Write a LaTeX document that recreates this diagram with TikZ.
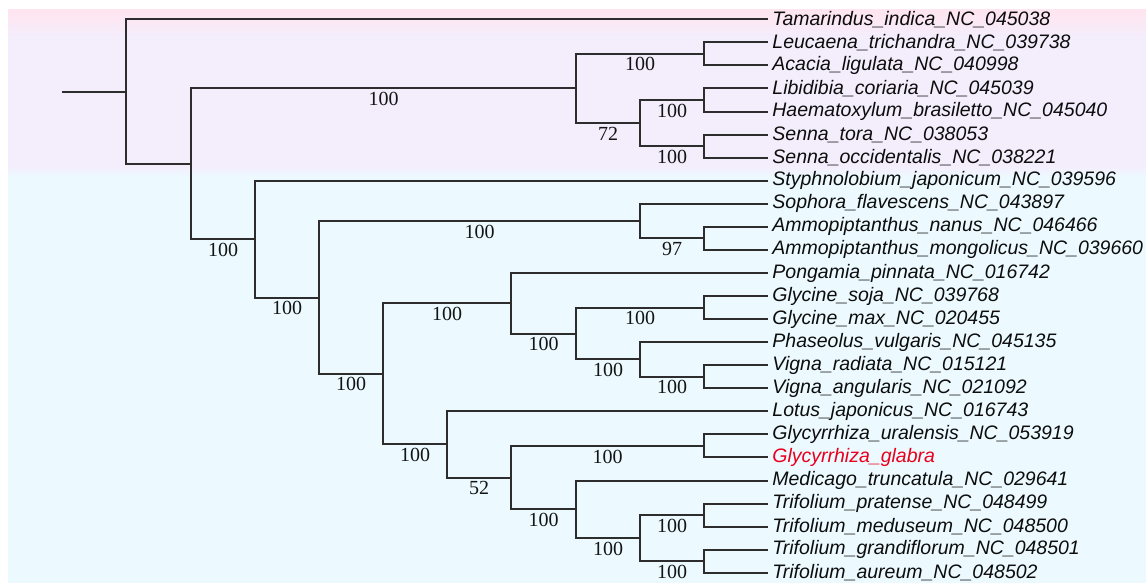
\documentclass[tikz,border=0pt]{standalone}
\usepackage{fontspec}
\setmainfont{Liberation Serif}
\newfontfamily\leaffont{Liberation Sans}
\definecolor{bgpink}{RGB}{255,229,239}
\definecolor{bglav}{RGB}{244,237,252}
\definecolor{bgcyan}{RGB}{236,250,255}
\definecolor{branchc}{RGB}{45,45,45}
\definecolor{hilite}{RGB}{232,0,28}
\tikzset{
  branch/.style={draw=branchc, line width=1pt},
  leaflabel/.style={anchor=west, inner sep=2pt, font=\leaffont\itshape\fontsize{9.75}{10}\selectfont, text=black!95},
  supp/.style={below, inner sep=1.4pt, font=\fontsize{10}{10}\selectfont, text=black!92},
}
\begin{document}
\begin{tikzpicture}[x=0.5pt, y=-0.5pt]
\useasboundingbox (0,0) rectangle (1146,583);
% background bands
\fill[bglav] (8,36) rectangle (1146,166);
\shade[top color=bgpink, bottom color=bglav] (8,10) rectangle (1146,37);
\shade[top color=bglav, bottom color=bgcyan] (8,165) rectangle (1146,178);
\fill[bgcyan] (8,177) rectangle (1146,583);
% leaves
\foreach \i/\name/\txt in {
 0/l0/Tamarindus\_indica\_NC\_045038,
 1/l1/Leucaena\_trichandra\_NC\_039738,
 2/l2/Acacia\_ligulata\_NC\_040998,
 3/l3/Libidibia\_coriaria\_NC\_045039,
 4/l4/Haematoxylum\_brasiletto\_NC\_045040,
 5/l5/Senna\_tora\_NC\_038053,
 6/l6/Senna\_occidentalis\_NC\_038221,
 7/l7/Styphnolobium\_japonicum\_NC\_039596,
 8/l8/Sophora\_flavescens\_NC\_043897,
 9/l9/Ammopiptanthus\_nanus\_NC\_046466,
 10/l10/Ammopiptanthus\_mongolicus\_NC\_039660,
 11/l11/Pongamia\_pinnata\_NC\_016742,
 12/l12/Glycine\_soja\_NC\_039768,
 13/l13/Glycine\_max\_NC\_020455,
 14/l14/Phaseolus\_vulgaris\_NC\_045135,
 15/l15/Vigna\_radiata\_NC\_015121,
 16/l16/Vigna\_angularis\_NC\_021092,
 17/l17/Lotus\_japonicus\_NC\_016743,
 18/l18/Glycyrrhiza\_uralensis\_NC\_053919,
 20/l20/Medicago\_truncatula\_NC\_029641,
 21/l21/Trifolium\_pratense\_NC\_048499,
 22/l22/Trifolium\_meduseum\_NC\_048500,
 23/l23/Trifolium\_grandiflorum\_NC\_048501,
 24/l24/Trifolium\_aureum\_NC\_048502}{
  \node[leaflabel] (\name) at (768,{19.3+23.06*\i}) {\txt};
}
\node[leaflabel, text=hilite] (l19) at (768,{19.3+23.06*19}) {Glycyrrhiza\_glabra};
% internal nodes
\coordinate (start) at (62,91.55);
\coordinate (root) at (126,91.55);
\coordinate (nB) at (191,163.8);
\coordinate (nCaes) at (576,88.5);
\coordinate (nLA) at (704,53.9);
\coordinate (n72) at (640,123.1);
\coordinate (nLH) at (704,100);
\coordinate (nS) at (704,146.15);
\coordinate (nC) at (255,239.1);
\coordinate (nD) at (319,297.5);
\coordinate (nSo) at (640,221.1);
\coordinate (nAm) at (704,238.35);
\coordinate (nE) at (383,373.85);
\coordinate (nF) at (511,303.25);
\coordinate (nG) at (576,333.5);
\coordinate (nGly) at (704,307.55);
\coordinate (nPh) at (640,359.4);
\coordinate (nVi) at (704,376.75);
\coordinate (nI) at (447,444.45);
\coordinate (nJ) at (511,477.6);
\coordinate (nGz) at (704,445.9);
\coordinate (nK) at (576,509.3);
\coordinate (nL) at (640,538.15);
\coordinate (nTpm) at (704,515.1);
\coordinate (nTga) at (704,561.2);
% branches
\draw[branch] (start) -- (root);
\draw[branch] (root) |- (l0.west);
\draw[branch] (root) |- (nB);
\draw[branch] (nB) |- node[supp, pos=0.75] {100} (nCaes);
\draw[branch] (nCaes) |- node[supp, pos=0.75] {100} (nLA);
\draw[branch] (nCaes) |- node[supp, pos=0.75] {72} (n72);
\draw[branch] (nLA) |- (l1.west);
\draw[branch] (nLA) |- (l2.west);
\draw[branch] (n72) |- node[supp, pos=0.75] {100} (nLH);
\draw[branch] (n72) |- node[supp, pos=0.75] {100} (nS);
\draw[branch] (nLH) |- (l3.west);
\draw[branch] (nLH) |- (l4.west);
\draw[branch] (nS) |- (l5.west);
\draw[branch] (nS) |- (l6.west);
\draw[branch] (nB) |- node[supp, pos=0.75] {100} (nC);
\draw[branch] (nC) |- (l7.west);
\draw[branch] (nC) |- node[supp, pos=0.75] {100} (nD);
\draw[branch] (nD) |- node[supp, pos=0.75] {100} (nSo);
\draw[branch] (nSo) |- (l8.west);
\draw[branch] (nSo) |- node[supp, pos=0.75] {97} (nAm);
\draw[branch] (nAm) |- (l9.west);
\draw[branch] (nAm) |- (l10.west);
\draw[branch] (nD) |- node[supp, pos=0.75] {100} (nE);
\draw[branch] (nE) |- node[supp, pos=0.75] {100} (nF);
\draw[branch] (nF) |- (l11.west);
\draw[branch] (nF) |- node[supp, pos=0.75] {100} (nG);
\draw[branch] (nG) |- node[supp, pos=0.75] {100} (nGly);
\draw[branch] (nGly) |- (l12.west);
\draw[branch] (nGly) |- (l13.west);
\draw[branch] (nG) |- node[supp, pos=0.75] {100} (nPh);
\draw[branch] (nPh) |- (l14.west);
\draw[branch] (nPh) |- node[supp, pos=0.75] {100} (nVi);
\draw[branch] (nVi) |- (l15.west);
\draw[branch] (nVi) |- (l16.west);
\draw[branch] (nE) |- node[supp, pos=0.75] {100} (nI);
\draw[branch] (nI) |- (l17.west);
\draw[branch] (nI) |- node[supp, pos=0.75] {52} (nJ);
\draw[branch] (nJ) |- node[supp, pos=0.75] {100} (nGz);
\draw[branch] (nGz) |- (l18.west);
\draw[branch] (nGz) |- (l19.west);
\draw[branch] (nJ) |- node[supp, pos=0.75] {100} (nK);
\draw[branch] (nK) |- (l20.west);
\draw[branch] (nK) |- node[supp, pos=0.75] {100} (nL);
\draw[branch] (nL) |- node[supp, pos=0.75] {100} (nTpm);
\draw[branch] (nTpm) |- (l21.west);
\draw[branch] (nTpm) |- (l22.west);
\draw[branch] (nL) |- node[supp, pos=0.75] {100} (nTga);
\draw[branch] (nTga) |- (l23.west);
\draw[branch] (nTga) |- (l24.west);
\end{tikzpicture}
\end{document}
